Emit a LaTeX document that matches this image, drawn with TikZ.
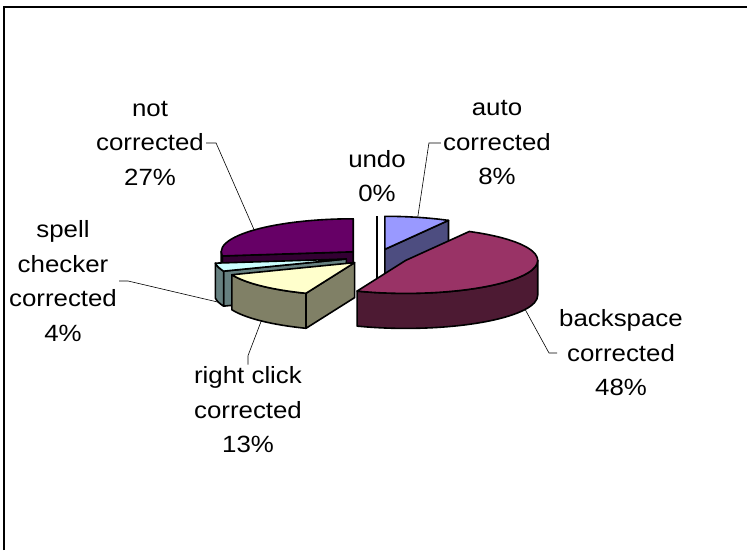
\documentclass[tikz,border=0pt]{standalone}
\usepackage{fontspec}
\setmainfont{Liberation Sans}[FakeStretch=1.1]
\usetikzlibrary{calc}
\definecolor{autoTop}{RGB}{153,153,255}
\definecolor{autoSide}{RGB}{77,77,128}
\definecolor{bsTop}{RGB}{153,51,102}
\definecolor{bsSide}{RGB}{77,26,51}
\definecolor{rcTop}{RGB}{255,255,204}
\definecolor{rcSide}{RGB}{128,128,102}
\definecolor{spTop}{RGB}{204,255,255}
\definecolor{spSide}{RGB}{102,128,128}
\definecolor{ncTop}{RGB}{102,0,102}
\definecolor{ncSide}{RGB}{51,0,51}
\tikzset{
    slice/.style={draw=black, line width=1.6pt, line join=round},
    rim/.style={x radius=132, y radius=33},
    pielabel/.style={align=center, inner sep=2pt, font=\fontsize{23.5}{34.5}\selectfont},
    leader/.style={draw=black, line width=0.6pt}
}

\begin{document}
\begin{tikzpicture}[x=1pt, y=-1pt]
    \useasboundingbox (0,0) rectangle (747,550);
    % chart frame
    \draw [line width=1.5pt] (4,550) -- (4,7) -- (747,7);

    % exploded slice centres
    \coordinate (ncC) at (353.2,251.8);
    \coordinate (undoC) at (377.0,249.1);
    \coordinate (autoC) at (384.9,249.3);
    \coordinate (spC) at (346.3,259.0);
    \coordinate (rcC) at (354.6,262.6);
    \coordinate (bsC) at (405.7,260.4);

    % not corrected
    \filldraw [slice, fill=ncSide] (ncC) -- ++(172.8:132 and 33) -- ++(0,35) -- ($(ncC)+(0,35)$) -- cycle;
    \filldraw [slice, fill=ncSide] ($(ncC)+(172.8:132 and 33)$) arc [rim, start angle=172.8, end angle=180] -- ++(0,35) arc [rim, start angle=180, end angle=172.8] -- cycle;
    \filldraw [slice, fill=ncTop] (ncC) -- ++(172.8:132 and 33) arc [rim, start angle=172.8, end angle=270] -- cycle;

    % undo
    \draw [line width=2.5pt] ($(undoC)+(0,-33)$) -- ($(undoC)+(0,35)$);

    % auto corrected
    \filldraw [slice, fill=autoSide] (autoC) -- ++(-61.2:132 and 33) -- ++(0,35) -- ($(autoC)+(0,35)$) -- cycle;
    \filldraw [slice, fill=autoTop] (autoC) -- ++(-90:132 and 33) arc [rim, start angle=-90, end angle=-61.2] -- cycle;

    % spell checker
    \filldraw [slice, fill=spSide] (spC) -- ++(158.4:132 and 33) -- ++(0,35) -- ($(spC)+(0,35)$) -- cycle;
    \filldraw [slice, fill=spSide] ($(spC)+(158.4:132 and 33)$) arc [rim, start angle=158.4, end angle=172.8] -- ++(0,35) arc [rim, start angle=172.8, end angle=158.4] -- cycle;
    \filldraw [slice, fill=spTop] (spC) -- ++(158.4:132 and 33) arc [rim, start angle=158.4, end angle=172.8] -- cycle;

    % right click
    \filldraw [slice, fill=rcSide] (rcC) -- ++(111.6:132 and 33) -- ++(0,35) -- ($(rcC)+(0,35)$) -- cycle;
    \filldraw [slice, fill=rcSide] ($(rcC)+(111.6:132 and 33)$) arc [rim, start angle=111.6, end angle=158.4] -- ++(0,35) arc [rim, start angle=158.4, end angle=111.6] -- cycle;
    \filldraw [slice, fill=rcTop] (rcC) -- ++(111.6:132 and 33) arc [rim, start angle=111.6, end angle=158.4] -- cycle;

    % backspace
    \filldraw [slice, fill=bsSide] ($(bsC)+(0:132 and 33)$) arc [rim, start angle=0, end angle=111.6] -- ++(0,35) arc [rim, start angle=111.6, end angle=0] -- cycle;
    \filldraw [slice, fill=bsTop] (bsC) -- ++(-61.2:132 and 33) arc [rim, start angle=-61.2, end angle=111.6] -- cycle;

    % leader ends on the slices
    \coordinate (ncM) at ($(ncC)+(221.4:132 and 33)$);
    \coordinate (autoM) at ($(autoC)+(-75.6:132 and 33)$);
    \coordinate (spM) at ($(spC)+(165.6:132 and 33)+(0,35)$);
    \coordinate (rcM) at ($(rcC)+(135:132 and 33)+(0,35)$);
    \coordinate (bsM) at ($(bsC)+(25.2:132 and 33)+(0,35)$);

    % labels
    \node [pielabel] (ncLbl) at (150,143) {not\\corrected\\27\%};
    \node [pielabel] (undoLbl) at (377,176) {undo\\0\%};
    \node [pielabel] (autoLbl) at (497,143) {auto\\corrected\\8\%};
    \node [pielabel] (spLbl) at (63,281) {spell\\checker\\corrected\\4\%};
    \node [pielabel] (rcLbl) at (248,410) {right click\\corrected\\13\%};
    \node [pielabel] (bsLbl) at (621,353) {backspace\\corrected\\48\%};

    \draw [leader] (ncLbl.east) -- ++(10,0) -- (ncM);
    \draw [leader] (autoLbl.west) -- ++(-12,0) -- (autoM);
    \draw [leader] (spLbl.east) -- ++(9,0) -- (spM);
    \draw [leader] (rcLbl.north) -- ++(0,-9) -- (rcM);
    \draw [leader] (bsLbl.west) -- ++(-8,0) -- (bsM);
\end{tikzpicture}
\end{document}
